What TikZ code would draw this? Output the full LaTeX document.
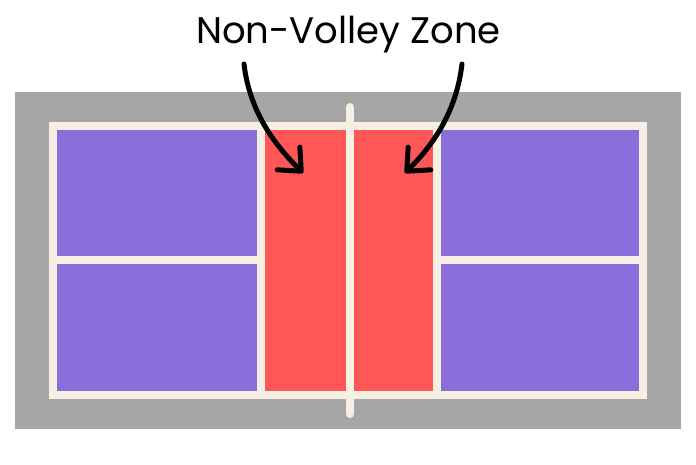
\documentclass[tikz,border=0pt]{standalone}
\usepackage{fontspec}
\setmainfont{Poppins}
\usepackage{tikz}
\usetikzlibrary{arrows.meta}

\definecolor{courtgray}{HTML}{A6A6A6}
\definecolor{courtline}{HTML}{F5EFE4}
\definecolor{courtpurple}{HTML}{8A6FDC}
\definecolor{kitchenred}{HTML}{FF5757}

\begin{document}
\begin{tikzpicture}[x=1pt, y=-1pt,
    courtlines/.style={draw=courtline, line width=8pt},
    pointer/.style={line width=5pt, line cap=round,
        -{Straight Barb[length=18pt, width=32pt, round]}}]
    \useasboundingbox (0, 0) rectangle (696, 464); % page size
    % court
    \fill[courtgray] (15, 92) rectangle (681, 429);
    \fill[courtpurple] (53, 125.5) rectangle (643, 395);
    \fill[kitchenred] (260.5, 125.5) rectangle (437, 395);
    \draw[courtlines] (53, 125.5) rectangle (643, 395);
    \draw[courtlines] (53, 260) -- (260.5, 260);
    \draw[courtlines] (437, 260) -- (643, 260);
    \draw[courtlines] (260.5, 125.5) -- (260.5, 395);
    \draw[courtlines] (437, 125.5) -- (437, 395);
    \draw[courtlines, line cap=round] (350, 107) -- (350, 414);
    % label and pointers
    \node[anchor=base, inner sep=0pt, font=\fontsize{37}{44}\selectfont] (nvz) at (348.5, 43) {Non-Volley Zone};
    \coordinate (leftstart) at (244, 64);
    \coordinate (lefttip) at (303, 173);
    \coordinate (rightstart) at (462, 64);
    \coordinate (righttip) at (405, 173);
    \draw[pointer] (leftstart) .. controls (250, 115) and (278, 148) .. (lefttip);
    \draw[pointer] (rightstart) .. controls (456, 115) and (430, 148) .. (righttip);
\end{tikzpicture}
\end{document}
